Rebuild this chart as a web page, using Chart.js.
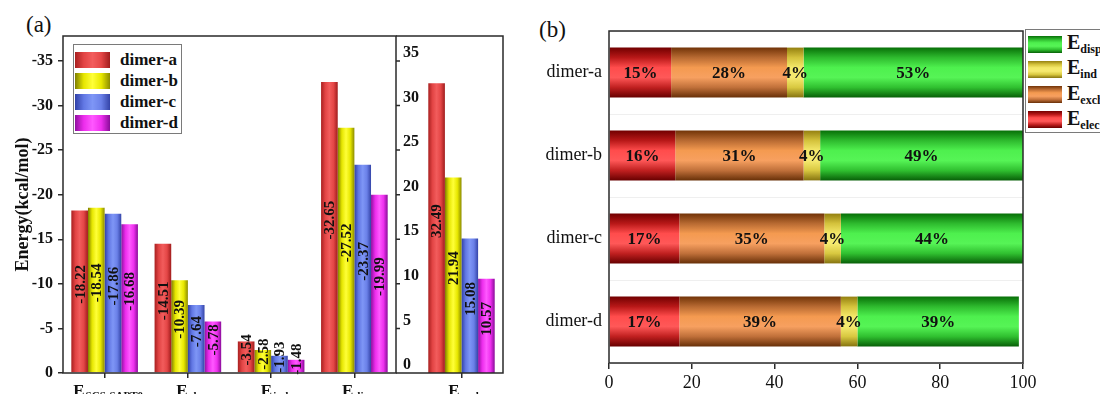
<!DOCTYPE html>
<html>
<head>
<meta charset="utf-8">
<script src="https://cdn.jsdelivr.net/npm/chart.js@4.4.1/dist/chart.umd.min.js"></script>
<style>
  html, body { margin: 0; padding: 0; background: #fff; }
  #wrap { position: relative; width: 1100px; height: 394px; overflow: hidden; background: #fff;
          font-family: "Liberation Serif", "Times New Roman", serif; color: #111; }
  #wrap canvas { position: absolute; top: 0; }
  .panel-tag { position: absolute; font-size: 23px; line-height: 1; }
  .legend { position: absolute; border: 1px solid #7a7a7a; background: #fff; box-sizing: border-box; }
  .legend .item { position: absolute; display: flex; align-items: center; white-space: nowrap; }
  .legend .sw { display: inline-block; }
  .legend-a .item { font-weight: bold; font-size: 17px; }
  .legend-b .item { font-weight: bold; font-size: 20px; }
  .legend-b sub { font-size: 12px; vertical-align: -4px; }
</style>
</head>
<body>
<div id="wrap">
  <div class="panel-tag" style="left:26px; top:13px;">(a)</div>
  <div class="panel-tag" style="left:539px; top:18px;">(b)</div>
  <canvas id="termsChart" width="400" height="394" style="left:0px;"></canvas>
  <canvas id="exchChart" width="120" height="394" style="left:396px;"></canvas>
  <canvas id="shareChart" width="580" height="394" style="left:520px;"></canvas>
  <div class="legend legend-a" id="legendA" style="left:73px; top:44px; width:109px; height:90px;"></div>
  <div class="legend legend-b" id="legendB" style="left:1025px; top:29px; width:95px; height:104px;"></div>
</div>
<script>
// ---- (a) SAPT energy terms, kcal/mol ----
const dimers = ['dimer-a', 'dimer-b', 'dimer-c', 'dimer-d'];
const attractiveTerms = ['E_SCS-SAPT0', 'E_elec', 'E_ind', 'E_disp'];
const dimerA = [-18.22, -14.51, -3.54, -32.65];
const dimerB = [-18.54, -10.39, -2.58, -27.52];
const dimerC = [-17.86, -7.64, -1.93, -23.37];
const dimerD = [-16.68, -5.78, -1.48, -19.99];
const exchTerm = ['E_exch'];
const exchA = [32.49];
const exchB = [21.94];
const exchC = [15.08];
const exchD = [10.57];
const energyTicks = { max: 37.8, step: 5 };

// ---- (b) share of each term, % ----
const shareTerms = ['E_elec', 'E_exch', 'E_ind', 'E_disp'];
const pctElec = [15, 16, 17, 17];
const pctExch = [28, 31, 35, 39];
const pctInd  = [4, 4, 4, 4];
const pctDisp = [53, 49, 44, 39];
const pctTicks = { max: 100, step: 20 };

const SERIF = '"Liberation Serif", "Times New Roman", serif';
Chart.defaults.font.family = SERIF;
Chart.defaults.color = '#111';

// shading ramps for the bars (edge -> centre -> edge)
const dimerShades = [
  ['#a82020', '#e24444', '#f25c5c', '#e44646', '#a01c1c'],
  ['#7e7e00', '#e6e600', '#ffff38', '#e8e800', '#8c8c00'],
  ['#3040a8', '#6278e4', '#7e96f6', '#6a80e8', '#3444a8'],
  ['#9010a0', '#ec2cec', '#ff58ff', '#ee30ee', '#8a0c9a']
];
const termShades = {
  E_elec: ['#720000', '#b81818', '#ff4c4c', '#ff5858', '#c02020', '#680000'],
  E_exch: ['#723408', '#b86a32', '#f49a50', '#f7a060', '#c0703a', '#683008'],
  E_ind:  ['#948010', '#d4c23c', '#f4e86a', '#f6ea70', '#d8c840', '#867410'],
  E_disp: ['#087008', '#2eba2e', '#4ef04e', '#56f456', '#30c030', '#086008']
};
const flat = (ramp) => ramp[Math.floor(ramp.length / 2)];

function makeGradient(ctx, x0, y0, x1, y1, ramp) {
  const g = ctx.createLinearGradient(x0, y0, x1, y1);
  ramp.forEach((c, i) => g.addColorStop(i / (ramp.length - 1), c));
  return g;
}
function cssGradient(dir, ramp) {
  return 'linear-gradient(' + dir + ',' + ramp.join(',') + ')';
}

// paints each bar with a cylinder-like gradient once its geometry is known
const shadeBars = {
  id: 'shadeBars',
  beforeDatasetsDraw(chart) {
    const ctx = chart.ctx;
    const horizontal = chart.options.indexAxis === 'y';
    chart.data.datasets.forEach((ds, di) => {
      chart.getDatasetMeta(di).data.forEach(el => {
        const p = el.getProps(['x', 'y', 'width', 'height'], true);
        el.options.backgroundColor = horizontal
          ? makeGradient(ctx, 0, p.y - p.height / 2, 0, p.y + p.height / 2, ds.ramp)
          : makeGradient(ctx, p.x - p.width / 2, 0, p.x + p.width / 2, 0, ds.ramp);
      });
    });
  }
};

// rotated value labels inside the bars of panel (a)
const energyValueLabels = {
  id: 'energyValueLabels',
  afterDatasetsDraw(chart) {
    const ctx = chart.ctx;
    chart.data.datasets.forEach((ds, di) => {
      chart.getDatasetMeta(di).data.forEach((el, i) => {
        const p = el.getProps(['x', 'y', 'base'], true);
        const cy = (p.y + p.base) / 2 - 7;
        ctx.save();
        ctx.translate(p.x, cy);
        ctx.rotate(-Math.PI / 2);
        ctx.font = 'bold 15px ' + SERIF;
        ctx.fillStyle = '#111';
        ctx.textAlign = 'center';
        ctx.textBaseline = 'middle';
        ctx.fillText(ds.data[i].toFixed(2), 0, 1);
        ctx.restore();
      });
    });
  }
};

// category names with subscripts under the x axis of panel (a)
const termAxisLabels = {
  id: 'termAxisLabels',
  afterDraw(chart) {
    const ctx = chart.ctx;
    const sx = chart.scales.x;
    chart.data.labels.forEach((lab, i) => {
      const [main, sub] = lab.split('_');
      const cx = sx.getPixelForTick(i);
      ctx.save();
      ctx.fillStyle = '#111';
      ctx.textBaseline = 'alphabetic';
      ctx.font = 'bold 17px ' + SERIF;
      const w1 = ctx.measureText(main).width;
      ctx.font = 'bold 11px ' + SERIF;
      const w2 = ctx.measureText(sub).width;
      const x0 = cx - (w1 + w2) / 2 + 3;
      ctx.font = 'bold 17px ' + SERIF;
      ctx.fillText(main, x0, 396);
      ctx.font = 'bold 11px ' + SERIF;
      ctx.fillText(sub, x0 + w1 + 1, 399);
      ctx.restore();
    });
  }
};

// plot frame; in panel (a) its right edge doubles as the divider
const frameBox = {
  id: 'frameBox',
  afterDraw(chart) {
    const a = chart.chartArea, ctx = chart.ctx;
    ctx.save();
    ctx.strokeStyle = '#2a2a2a';
    ctx.lineWidth = 1.5;
    ctx.strokeRect(a.left, a.top, a.right - a.left, a.bottom - a.top);
    ctx.restore();
  }
};

// frame pieces and inward tick marks for the exchange section
const exchFrame = {
  id: 'exchFrame',
  afterDraw(chart) {
    const a = chart.chartArea, ctx = chart.ctx, sy = chart.scales.y;
    ctx.save();
    ctx.strokeStyle = '#2a2a2a';
    ctx.lineWidth = 1.5;
    ctx.beginPath();
    ctx.moveTo(0, a.top); ctx.lineTo(a.right, a.top); ctx.lineTo(a.right, a.bottom); ctx.lineTo(0, a.bottom);
    sy.ticks.forEach(t => {
      const y = sy.getPixelForValue(t.value);
      ctx.moveTo(0, y); ctx.lineTo(4, y);
    });
    ctx.stroke();
    ctx.restore();
  }
};

// percentage labels centred in each stacked segment of panel (b)
const shareLabels = {
  id: 'shareLabels',
  afterDatasetsDraw(chart) {
    const ctx = chart.ctx;
    ctx.save();
    ctx.font = 'bold 17px ' + SERIF;
    ctx.fillStyle = '#111';
    ctx.textAlign = 'center';
    ctx.textBaseline = 'middle';
    chart.data.datasets.forEach((ds, di) => {
      chart.getDatasetMeta(di).data.forEach((el, i) => {
        const p = el.getProps(['x', 'y', 'base'], true);
        ctx.fillText(ds.data[i] + '%', (p.x + p.base) / 2, p.y + 1);
      });
    });
    ctx.restore();
  }
};

const tickFontBold = { family: SERIF, size: 16, weight: 'bold' };
const common = {
  responsive: false,
  animation: false,
  events: [],
  plugins: { legend: { display: false }, tooltip: { enabled: false } }
};

function dimerSets(series) {
  return series.map((data, k) => ({
    label: dimers[k],
    data: data,
    ramp: dimerShades[k],
    backgroundColor: () => flat(dimerShades[k]),
    borderWidth: 0,
    categoryPercentage: 0.8,
    barPercentage: 1
  }));
}

// left section: negative (attractive) terms, axis pointing upward to -35
new Chart(document.getElementById('termsChart'), {
  type: 'bar',
  data: { labels: attractiveTerms, datasets: dimerSets([dimerA, dimerB, dimerC, dimerD]) },
  options: Object.assign({}, common, {
    layout: { padding: { left: 0, right: 4, top: 36, bottom: 0 } },
    scales: {
      x: {
        ticks: { display: false },
        grid: { offset: false, drawOnChartArea: false, tickLength: 5, color: '#2a2a2a', lineWidth: 1.5 },
        border: { display: false },
        afterFit(s) { s.height = 21; }
      },
      y: {
        reverse: true,
        min: -energyTicks.max,
        max: 0,
        ticks: { stepSize: energyTicks.step, includeBounds: false, font: tickFontBold, color: '#111', padding: 5 },
        grid: { drawOnChartArea: false, tickLength: 5, color: '#2a2a2a', lineWidth: 1.5 },
        border: { display: false },
        title: {
          display: true, text: 'Energy(kcal/mol)', color: '#111',
          font: { family: SERIF, size: 18, weight: 'bold' },
          padding: { top: 13, bottom: 0 }
        },
        afterFit(s) { s.width = 63; }
      }
    }
  }),
  plugins: [shadeBars, energyValueLabels, termAxisLabels, frameBox]
});

// right section: repulsive exchange term on its own positive axis
new Chart(document.getElementById('exchChart'), {
  type: 'bar',
  data: { labels: exchTerm, datasets: dimerSets([exchA, exchB, exchC, exchD]) },
  options: Object.assign({}, common, {
    layout: { padding: { left: 7, right: 13, top: 36, bottom: 0 } },
    scales: {
      x: {
        ticks: { display: false },
        grid: { offset: false, drawOnChartArea: false, tickLength: 5, color: '#2a2a2a', lineWidth: 1.5 },
        border: { display: false },
        afterFit(s) { s.height = 21; }
      },
      y: {
        min: 0,
        max: energyTicks.max,
        ticks: { stepSize: energyTicks.step, includeBounds: false, font: tickFontBold, color: '#111',
                 crossAlign: 'far', labelOffset: -8 },
        grid: { display: false },
        border: { display: false },
        afterFit(s) { s.width = 17; }
      }
    }
  }),
  plugins: [shadeBars, energyValueLabels, termAxisLabels, exchFrame]
});

// (b) horizontal 100% stacked bars
const pctSeries = [pctElec, pctExch, pctInd, pctDisp];
new Chart(document.getElementById('shareChart'), {
  type: 'bar',
  data: {
    labels: dimers,
    datasets: shareTerms.map((t, k) => ({
      label: t,
      data: pctSeries[k],
      ramp: termShades[t],
      backgroundColor: () => flat(termShades[t]),
      borderWidth: 0,
      categoryPercentage: 0.6,
      barPercentage: 1
    }))
  },
  options: Object.assign({}, common, {
    indexAxis: 'y',
    layout: { padding: { left: 0, right: 77, top: 31, bottom: 0 } },
    scales: {
      x: {
        stacked: true,
        min: 0,
        max: pctTicks.max,
        ticks: { stepSize: pctTicks.step, font: { family: SERIF, size: 18 }, color: '#111', padding: 3 },
        grid: { drawOnChartArea: false, tickLength: 6, color: '#2a2a2a', lineWidth: 1.5 },
        border: { display: false },
        afterFit(s) { s.height = 31; }
      },
      y: {
        stacked: true,
        ticks: { font: { family: SERIF, size: 18 }, color: '#111', padding: 7 },
        grid: { drawTicks: false, color: '#efefef', lineWidth: 1 },
        border: { display: false },
        afterFit(s) { s.width = 89; }
      }
    }
  }),
  plugins: [shadeBars, shareLabels, frameBox]
});

// legends
const legendA = document.getElementById('legendA');
dimers.forEach((name, k) => {
  const it = document.createElement('div');
  it.className = 'item';
  it.style.left = '1px';
  it.style.top = (5 + k * 21) + 'px';
  it.innerHTML = '<span class="sw" style="width:35px;height:16px;background:' +
    cssGradient('to right', dimerShades[k]) + '"></span><span style="margin-left:10px">' + name + '</span>';
  legendA.appendChild(it);
});
const legendB = document.getElementById('legendB');
shareTerms.slice().reverse().forEach((t, k) => {
  const [main, sub] = t.split('_');
  const it = document.createElement('div');
  it.className = 'item';
  it.style.left = '2px';
  it.style.top = (2 + k * 25.3) + 'px';
  it.style.height = '24px';
  it.innerHTML = '<span class="sw" style="width:34px;height:17px;background:' +
    cssGradient('to bottom', termShades[t]) + '"></span><span style="margin-left:5px">' + main + '<sub>' + sub + '</sub></span>';
  legendB.appendChild(it);
});
</script>
</body>
</html>
